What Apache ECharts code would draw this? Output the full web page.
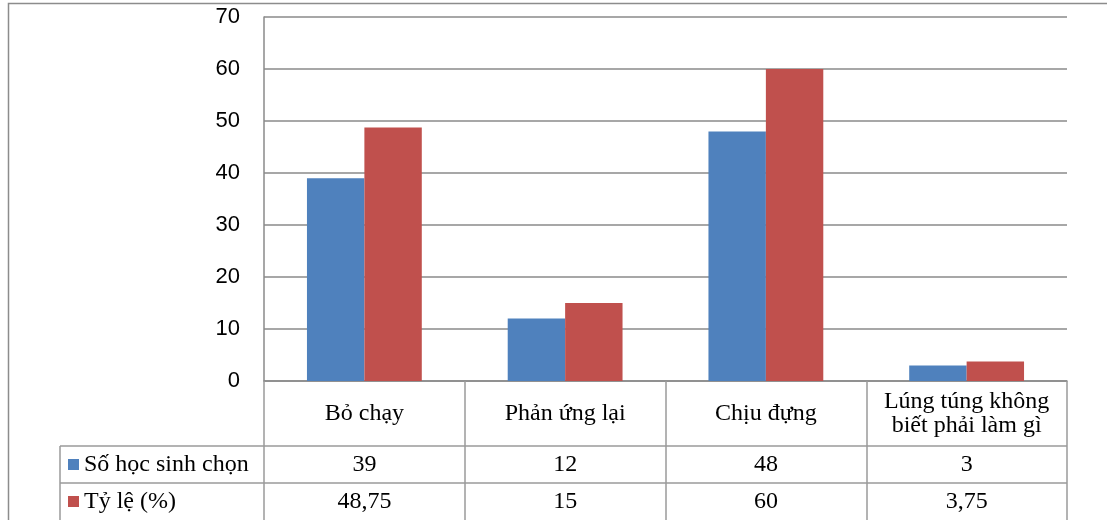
<!DOCTYPE html>
<html>
<head>
<meta charset="utf-8">
<script src="https://cdn.jsdelivr.net/npm/echarts@6/dist/echarts.min.js"></script>
<style>
  html, body { margin: 0; padding: 0; background: #fff; }
  #chart { width: 1107px; height: 520px; }
</style>
</head>
<body>
<div id="chart"></div>
<script>
// Categories and series values
const categories = ['Bỏ chạy', 'Phản ứng lại', 'Chịu đựng', 'Lúng túng không\nbiết phải làm gì'];
const seriesNames = ['Số học sinh chọn', 'Tỷ lệ (%)'];
const counts = [39, 12, 48, 3];
const rates = [48.75, 15, 60, 3.75];
const yTicks = [0, 10, 20, 30, 40, 50, 60, 70];

const BLUE = '#4F81BD';
const RED = '#C0504D';
const GRID_GRAY = '#8a8a8a';
const TABLE_GRAY = '#9a9a9a';
const SERIF = '"Liberation Serif", "Times New Roman", serif';
const SANS = '"Liberation Sans", Arial, sans-serif';
const SERIF_SIZE = 24;

// Plot area and data-table geometry
const W = 1107, H = 520;
const plotLeft = 264, plotRight = 1067, plotTop = 17, plotBottom = 381;
const catRowH = 65, valRowH = 37;
const tableLeft = 60;
const row1Top = plotBottom + catRowH;       // first value row
const row2Top = row1Top + valRowH;          // second value row

const fmt = v => String(v).replace('.', ',');

const chart = echarts.init(document.getElementById('chart'), null, { renderer: 'canvas' });

function valueAxis(values, offset) {
  return {
    type: 'category',
    gridIndex: 0,
    position: 'bottom',
    offset: offset,
    data: categories,
    axisLine: { show: false },
    axisTick: { show: false },
    splitLine: { show: false },
    axisLabel: {
      interval: 0,
      margin: valRowH / 2,
      verticalAlign: 'middle',
      fontFamily: SERIF,
      fontSize: SERIF_SIZE,
      color: '#000',
      formatter: (v, i) => fmt(values[i])
    }
  };
}

const legendRows = [
  { name: seriesNames[0], color: BLUE, top: row1Top },
  { name: seriesNames[1], color: RED, top: row2Top }
];

const graphics = [
  // outer chart border
  { type: 'polyline', shape: { points: [[8.5, H], [8.5, 3.5], [W, 3.5]] },
    style: { stroke: '#8c8c8c', lineWidth: 1.5, fill: null }, silent: true },
  // table horizontal rules
  { type: 'line', shape: { x1: tableLeft, y1: row1Top, x2: plotRight, y2: row1Top },
    style: { stroke: TABLE_GRAY, lineWidth: 1.5 }, silent: true },
  { type: 'line', shape: { x1: tableLeft, y1: row2Top, x2: plotRight, y2: row2Top },
    style: { stroke: TABLE_GRAY, lineWidth: 1.5 }, silent: true },
  // table left edge of the header column
  { type: 'line', shape: { x1: tableLeft, y1: row1Top, x2: tableLeft, y2: H },
    style: { stroke: TABLE_GRAY, lineWidth: 1.5 }, silent: true }
];

legendRows.forEach(r => {
  graphics.push({
    type: 'rect', shape: { x: 68, y: r.top + 13, width: 11, height: 11 },
    style: { fill: r.color }, silent: true
  });
  graphics.push({
    type: 'text', x: 84, y: r.top + valRowH / 2,
    style: { text: r.name, fill: '#000', font: SERIF_SIZE + 'px ' + SERIF, verticalAlign: 'middle' },
    silent: true
  });
});

chart.setOption({
  animation: false,
  backgroundColor: '#fff',
  grid: {
    left: plotLeft, right: W - plotRight, top: plotTop, bottom: H - plotBottom,
    containLabel: false, outerBoundsMode: 'none'
  },
  xAxis: [
    {
      type: 'category',
      gridIndex: 0,
      position: 'bottom',
      data: categories,
      axisLine: { show: true, lineStyle: { color: GRID_GRAY, width: 1.5 } },
      axisTick: { show: true, interval: 0, length: H - plotBottom, lineStyle: { color: TABLE_GRAY, width: 1.5 } },
      splitLine: { show: false },
      axisLabel: {
        interval: 0,
        margin: catRowH / 2,
        verticalAlign: 'middle',
        align: 'center',
        lineHeight: 24,
        fontFamily: SERIF,
        fontSize: SERIF_SIZE,
        color: '#000'
      }
    },
    valueAxis(counts, catRowH),
    valueAxis(rates, catRowH + valRowH)
  ],
  yAxis: {
    type: 'value',
    min: yTicks[0],
    max: yTicks[yTicks.length - 1],
    interval: 10,
    axisLine: { show: true, lineStyle: { color: GRID_GRAY, width: 1.5 } },
    axisTick: { show: false },
    splitLine: { show: true, lineStyle: { color: GRID_GRAY, width: 1.5 } },
    axisLabel: { margin: 24, fontFamily: SANS, fontSize: 22, color: '#000' }
  },
  series: [
    {
      name: seriesNames[0], type: 'bar', data: counts,
      xAxisIndex: 0, barWidth: '28.6%', barGap: '0%',
      itemStyle: { color: BLUE }
    },
    {
      name: seriesNames[1], type: 'bar', data: rates,
      xAxisIndex: 0, barWidth: '28.6%', barGap: '0%',
      itemStyle: { color: RED }
    }
  ],
  graphic: graphics
});
</script>
</body>
</html>
